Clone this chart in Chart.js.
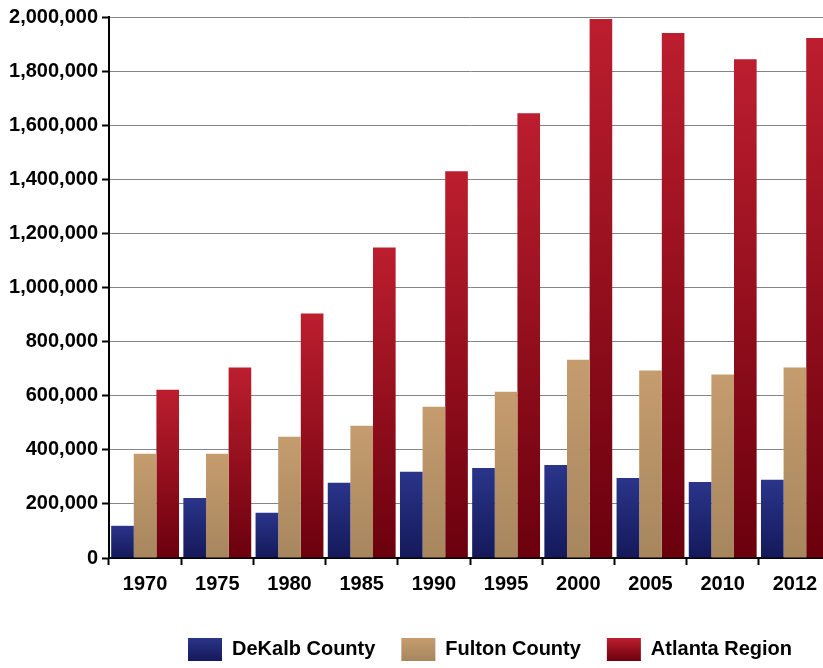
<!DOCTYPE html>
<html>
<head>
<meta charset="utf-8">
<script src="https://cdn.jsdelivr.net/npm/chart.js@4/dist/chart.umd.min.js"></script>
<style>
  html, body { margin: 0; padding: 0; background: #fff; overflow: hidden; }
  #wrap { width: 823px; height: 668px; overflow: hidden; }
</style>
</head>
<body>
<div id="wrap"><canvas id="chart" width="832" height="668"></canvas></div>
<script>
// Население: округа ДеКалб, Фултон и регион Атланты
const years = ['1970', '1975', '1980', '1985', '1990', '1995', '2000', '2005', '2010', '2012'];
const dekalb = [119000, 222000, 167000, 278000, 319000, 333000, 344000, 296000, 281000, 289000];
const fulton = [385000, 385000, 448000, 489000, 559000, 615000, 733000, 693000, 678000, 704000];
const atlanta = [622000, 704000, 904000, 1148000, 1430000, 1644000, 1993000, 1941000, 1844000, 1922000];
const yTicks = [0, 200000, 400000, 600000, 800000, 1000000, 1200000, 1400000, 1600000, 1800000, 2000000];

// цвета градиента: верх / низ
const colors = {
  dekalb: ['#2a358a', '#15195a'],
  fulton: ['#c59c6e', '#a7865e'],
  atlanta: ['#bc1e2e', '#6b000d']
};

const font = { family: '"Liberation Sans", Arial, sans-serif', size: 20, weight: 'bold' };

// градиент на каждый столбик: от его верха до нуля
function barGradient(pair) {
  return function(ctx) {
    const chart = ctx.chart;
    if (!chart.chartArea || ctx.type !== 'data') return pair[0];
    const y = chart.scales.y;
    const top = y.getPixelForValue(ctx.raw);
    const bottom = y.getPixelForValue(0);
    const g = chart.ctx.createLinearGradient(0, top, 0, bottom);
    g.addColorStop(0, pair[0]);
    g.addColorStop(1, pair[1]);
    return g;
  };
}

// сдвиг легенды (в оригинале она центрирована по более широкому холсту)
const legendCenterX = 490;
const legendShiftY = 3;
const shiftLegend = {
  id: 'shiftLegend',
  afterLayout(chart) {
    const l = chart.legend;
    if (!l) return;
    const dx = legendCenterX - (l.left + l.right) / 2;
    l.left += dx;
    l.right += dx;
    l.top += legendShiftY;
    l.bottom += legendShiftY;
  }
};

const ctx = document.getElementById('chart').getContext('2d');
new Chart(ctx, {
  type: 'bar',
  data: {
    labels: years,
    datasets: [
      { label: 'DeKalb County', data: dekalb, backgroundColor: barGradient(colors.dekalb), key: 'dekalb' },
      { label: 'Fulton County', data: fulton, backgroundColor: barGradient(colors.fulton), key: 'fulton' },
      { label: 'Atlanta Region', data: atlanta, backgroundColor: barGradient(colors.atlanta), key: 'atlanta' }
    ]
  },
  options: {
    responsive: false,
    animation: false,
    devicePixelRatio: 1,
    layout: { padding: { top: 17, right: 1, bottom: 0, left: 0 } },
    datasets: { bar: { categoryPercentage: 0.94, barPercentage: 1.0, borderWidth: 0 } },
    plugins: {
      tooltip: { enabled: false },
      legend: {
        position: 'bottom',
        labels: {
          color: '#000',
          font: font,
          boxWidth: 34,
          boxHeight: 23,
          padding: 26,
          generateLabels(chart) {
            const h = chart.height;
            return chart.data.datasets.map((ds, i) => {
              const pair = colors[ds.key];
              const g = chart.ctx.createLinearGradient(0, h - 30, 0, h - 7);
              g.addColorStop(0, pair[0]);
              g.addColorStop(1, pair[1]);
              return { text: ds.label, fillStyle: g, strokeStyle: 'rgba(0,0,0,0)', lineWidth: 0, fontColor: '#000', datasetIndex: i, hidden: false };
            });
          }
        }
      }
    },
    scales: {
      x: {
        grid: { drawOnChartArea: false, drawTicks: true, tickLength: 7, tickColor: '#000', tickWidth: 2 },
        border: { color: '#000', width: 2 },
        ticks: { color: '#000', font: font, padding: 7, maxRotation: 0 },
        afterFit(scale) { scale.height = 51; }
      },
      y: {
        min: 0,
        max: 2000000,
        afterBuildTicks(scale) { scale.ticks = yTicks.map(v => ({ value: v })); },
        grid: { color: '#858585', lineWidth: 1, tickLength: 7, tickColor: '#000', tickWidth: 2 },
        border: { color: '#000', width: 2 },
        ticks: {
          color: '#000',
          font: font,
          padding: 4,
          callback: v => v.toLocaleString('en-US')
        },
        afterFit(scale) { scale.width = 109; }
      }
    }
  },
  plugins: [shiftLegend]
});
</script>
</body>
</html>
